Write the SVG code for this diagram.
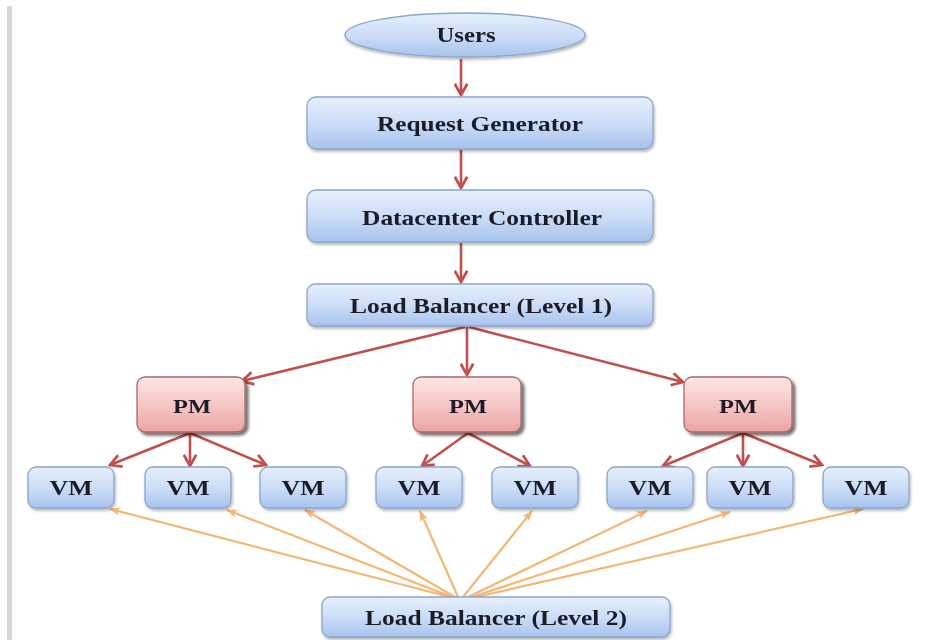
<svg xmlns="http://www.w3.org/2000/svg" width="932" height="640" viewBox="0 0 932 640">
<style>
.t{font-family:"Liberation Serif","Times New Roman",serif;font-weight:bold;fill:#1a1a28;text-anchor:middle}
.blue{fill:url(#gb);stroke:#8ba5c9;stroke-width:1.3}
.pink{fill:url(#gp);stroke:#a86868;stroke-width:1.3}
.red{stroke:#c0504d;stroke-width:2.6;fill:none;marker-end:url(#ar)}
.org{stroke:#f4b674;stroke-width:2.2;fill:none;marker-end:url(#ao)}
</style>
<defs>
<linearGradient id="gb" x1="0" y1="0" x2="0" y2="1">
<stop offset="0" stop-color="#e6effc"/><stop offset="0.55" stop-color="#c9dbf6"/><stop offset="1" stop-color="#a7c3ee"/>
</linearGradient>
<linearGradient id="gp" x1="0" y1="0" x2="0" y2="1">
<stop offset="0" stop-color="#fde6e6"/><stop offset="0.55" stop-color="#f5c3c3"/><stop offset="1" stop-color="#eaa4a4"/>
</linearGradient>
<filter id="sh" x="-10%" y="-10%" width="125%" height="140%">
<feGaussianBlur in="SourceAlpha" stdDeviation="1.5"/><feOffset dx="1" dy="2" result="o"/>
<feComponentTransfer><feFuncA type="linear" slope="0.3"/></feComponentTransfer>
<feMerge><feMergeNode/><feMergeNode in="SourceGraphic"/></feMerge>
</filter>
<filter id="shp" x="-10%" y="-10%" width="130%" height="140%">
<feGaussianBlur in="SourceAlpha" stdDeviation="1.5"/><feOffset dx="3" dy="3" result="o"/>
<feComponentTransfer><feFuncA type="linear" slope="0.55"/></feComponentTransfer>
<feMerge><feMergeNode/><feMergeNode in="SourceGraphic"/></feMerge>
</filter>
<marker id="ar" viewBox="0 0 12 12" refX="10.5" refY="6" markerWidth="15" markerHeight="15" markerUnits="userSpaceOnUse" orient="auto">
<path d="M1.5,1 L10.5,6 L1.5,11" fill="none" stroke="#c0504d" stroke-width="2.2"/>
</marker>
<marker id="ao" viewBox="0 0 12 12" refX="11" refY="6" markerWidth="11" markerHeight="11" markerUnits="userSpaceOnUse" orient="auto">
<path d="M0,1.5 L12,6 L0,10.5 L3,6 Z" fill="#f4b674"/>
</marker>
</defs>
<rect x="0" y="0" width="932" height="640" fill="#ffffff"/>
<rect x="7" y="6" width="5" height="634" fill="#d6d6d6"/>

<g id="connectors">
<line class="red" x1="461" y1="59" x2="461" y2="95"/>
<line class="red" x1="461" y1="150" x2="461" y2="188"/>
<line class="red" x1="461" y1="243" x2="461" y2="282"/>
<line class="red" x1="465" y1="327" x2="242" y2="381"/>
<line class="red" x1="467" y1="327" x2="467" y2="375"/>
<line class="red" x1="469" y1="327" x2="683" y2="382"/>
<line class="red" x1="190" y1="433" x2="110" y2="465"/>
<line class="red" x1="190" y1="433" x2="190" y2="466"/>
<line class="red" x1="190" y1="433" x2="266" y2="465"/>
<line class="red" x1="468" y1="433" x2="422" y2="466"/>
<line class="red" x1="468" y1="433" x2="530" y2="466"/>
<line class="red" x1="743" y1="433" x2="663" y2="466"/>
<line class="red" x1="743" y1="433" x2="743" y2="466"/>
<line class="red" x1="743" y1="433" x2="822" y2="465"/>
<line class="org" x1="450" y1="597" x2="110" y2="509"/>
<line class="org" x1="452" y1="597" x2="227" y2="510"/>
<line class="org" x1="455" y1="597" x2="305" y2="510"/>
<line class="org" x1="458" y1="597" x2="420" y2="511"/>
<line class="org" x1="463" y1="597" x2="532" y2="511"/>
<line class="org" x1="468" y1="597" x2="647" y2="511"/>
<line class="org" x1="472" y1="597" x2="730" y2="512"/>
<line class="org" x1="476" y1="597" x2="863" y2="509"/>
</g>

<g id="users" filter="url(#sh)">
<ellipse class="blue" cx="465" cy="35" rx="120" ry="22"/>
<text class="t" x="466" y="42" font-size="20" textLength="59" lengthAdjust="spacingAndGlyphs">Users</text>
</g>
<g id="request-generator" filter="url(#sh)">
<rect class="blue" x="307" y="97" width="346" height="52" rx="9"/>
<text class="t" x="480" y="131" font-size="21" textLength="206" lengthAdjust="spacingAndGlyphs">Request Generator</text>
</g>
<g id="datacenter-controller" filter="url(#sh)">
<rect class="blue" x="307" y="190" width="346" height="52" rx="9"/>
<text class="t" x="482" y="225" font-size="21" textLength="240" lengthAdjust="spacingAndGlyphs">Datacenter Controller</text>
</g>
<g id="lb1" filter="url(#sh)">
<rect class="blue" x="307" y="284" width="346" height="42" rx="8"/>
<text class="t" x="481" y="313" font-size="21" textLength="262" lengthAdjust="spacingAndGlyphs">Load Balancer (Level 1)</text>
</g>

<g id="pm1" filter="url(#shp)">
<rect class="pink" x="137" y="377" width="108" height="55" rx="8"/>
<text class="t" x="192" y="413" font-size="19" textLength="38" lengthAdjust="spacingAndGlyphs">PM</text>
</g>
<g id="pm2" filter="url(#shp)">
<rect class="pink" x="413" y="377" width="108" height="55" rx="8"/>
<text class="t" x="468" y="413" font-size="19" textLength="38" lengthAdjust="spacingAndGlyphs">PM</text>
</g>
<g id="pm3" filter="url(#shp)">
<rect class="pink" x="684" y="377" width="108" height="55" rx="8"/>
<text class="t" x="738" y="413" font-size="19" textLength="38" lengthAdjust="spacingAndGlyphs">PM</text>
</g>

<g id="vm1" filter="url(#sh)"><rect class="blue" x="28" y="467" width="86" height="41" rx="8"/><text class="t" x="71" y="495" font-size="20" textLength="43" lengthAdjust="spacingAndGlyphs">VM</text></g>
<g id="vm2" filter="url(#sh)"><rect class="blue" x="145" y="467" width="86" height="41" rx="8"/><text class="t" x="188" y="495" font-size="20" textLength="43" lengthAdjust="spacingAndGlyphs">VM</text></g>
<g id="vm3" filter="url(#sh)"><rect class="blue" x="260" y="467" width="86" height="41" rx="8"/><text class="t" x="303" y="495" font-size="20" textLength="43" lengthAdjust="spacingAndGlyphs">VM</text></g>
<g id="vm4" filter="url(#sh)"><rect class="blue" x="376" y="467" width="86" height="41" rx="8"/><text class="t" x="419" y="495" font-size="20" textLength="43" lengthAdjust="spacingAndGlyphs">VM</text></g>
<g id="vm5" filter="url(#sh)"><rect class="blue" x="492" y="467" width="86" height="41" rx="8"/><text class="t" x="535" y="495" font-size="20" textLength="43" lengthAdjust="spacingAndGlyphs">VM</text></g>
<g id="vm6" filter="url(#sh)"><rect class="blue" x="607" y="467" width="86" height="41" rx="8"/><text class="t" x="650" y="495" font-size="20" textLength="43" lengthAdjust="spacingAndGlyphs">VM</text></g>
<g id="vm7" filter="url(#sh)"><rect class="blue" x="707" y="467" width="86" height="41" rx="8"/><text class="t" x="750" y="495" font-size="20" textLength="43" lengthAdjust="spacingAndGlyphs">VM</text></g>
<g id="vm8" filter="url(#sh)"><rect class="blue" x="823" y="467" width="86" height="41" rx="8"/><text class="t" x="866" y="495" font-size="20" textLength="43" lengthAdjust="spacingAndGlyphs">VM</text></g>

<g id="lb2" filter="url(#sh)">
<rect class="blue" x="322" y="597" width="348" height="40" rx="8"/>
<text class="t" x="496" y="625" font-size="21" textLength="262" lengthAdjust="spacingAndGlyphs">Load Balancer (Level 2)</text>
</g>
</svg>
